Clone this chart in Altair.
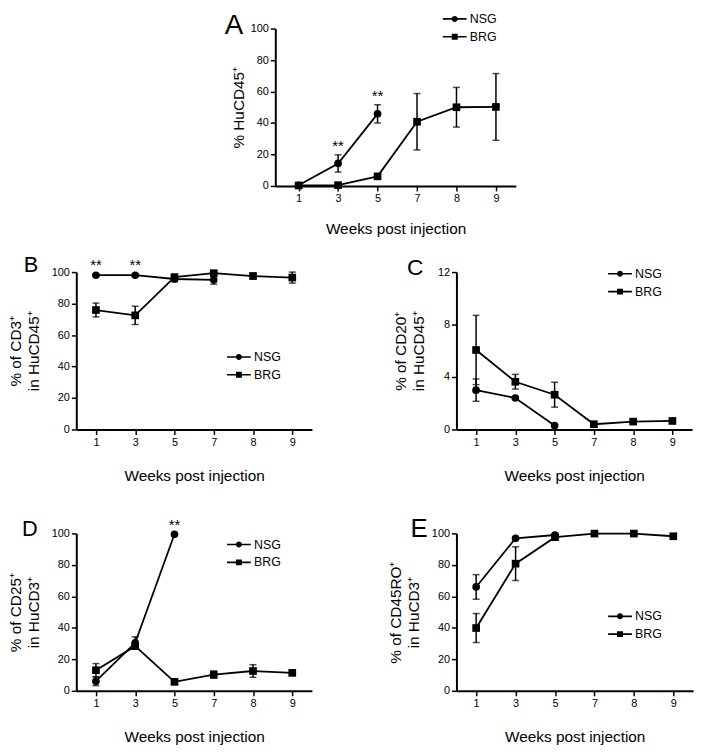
import altair as alt
import pandas as pd

WEEKS = ["1", "3", "5", "7", "8", "9"]
SERIES = ["NSG", "BRG"]
X_TITLE = "Weeks post injection"

# ---- Panel A ----
A_NSG_WEEKS = ["1", "3", "5"]
A_NSG_MEAN = [0.4, 14.3, 45.8]
A_NSG_SEM = [0.3, 5.5, 5.8]
A_BRG_WEEKS = ["1", "3", "5", "7", "8", "9"]
A_BRG_MEAN = [0.3, 0.5, 6.1, 40.8, 50.0, 50.2]
A_BRG_SEM = [0.2, 0.4, 1.4, 17.9, 12.6, 21.2]
A_SIG_WEEKS = ["3", "5"]
A_Y_TICKS = [0, 20, 40, 60, 80, 100]
A_Y_TITLE = ["% HuCD45⁺"]

# ---- Panel B ----
B_NSG_WEEKS = ["1", "3", "5", "7"]
B_NSG_MEAN = [98.0, 98.0, 95.6, 95.1]
B_NSG_SEM = [0.6, 0.6, 1.8, 2.8]
B_BRG_WEEKS = ["1", "3", "5", "7", "8", "9"]
B_BRG_MEAN = [75.9, 72.5, 96.8, 99.3, 97.5, 96.5]
B_BRG_SEM = [4.4, 5.8, 1.2, 1.0, 1.8, 3.5]
B_SIG_WEEKS = ["1", "3"]
B_Y_TICKS = [0, 20, 40, 60, 80, 100]
B_Y_TITLE = ["% of CD3⁺", "in HuCD45⁺"]

# ---- Panel C ----
C_NSG_WEEKS = ["1", "3", "5"]
C_NSG_MEAN = [3.0, 2.4, 0.3]
C_NSG_SEM = [0.85, 0.1, 0.1]
C_BRG_WEEKS = ["1", "3", "5", "7", "8", "9"]
C_BRG_MEAN = [6.06, 3.64, 2.65, 0.4, 0.6, 0.65]
C_BRG_SEM = [2.64, 0.56, 0.95, 0.1, 0.1, 0.1]
C_SIG_WEEKS = []
C_Y_TICKS = [0, 4, 8, 12]
C_Y_TITLE = ["% of CD20⁺", "in HuCD45⁺"]

# ---- Panel D ----
D_NSG_WEEKS = ["1", "3", "5"]
D_NSG_MEAN = [6.1, 30.5, 99.5]
D_NSG_SEM = [2.8, 3.8, 0.4]
D_BRG_WEEKS = ["1", "3", "5", "7", "8", "9"]
D_BRG_MEAN = [13.1, 28.4, 5.7, 10.3, 12.6, 11.4]
D_BRG_SEM = [4.2, 1.8, 1.5, 2.3, 4.0, 1.0]
D_SIG_WEEKS = ["5"]
D_Y_TICKS = [0, 20, 40, 60, 80, 100]
D_Y_TITLE = ["% of CD25⁺", "in HuCD3⁺"]

# ---- Panel E ----
E_NSG_WEEKS = ["1", "3", "5"]
E_NSG_MEAN = [66.0, 96.9, 99.0]
E_NSG_SEM = [7.8, 0.8, 0.5]
E_BRG_WEEKS = ["1", "3", "5", "7", "8", "9"]
E_BRG_MEAN = [39.9, 80.8, 97.6, 99.9, 99.9, 98.2]
E_BRG_SEM = [9.2, 10.7, 0.8, 0.3, 0.3, 0.5]
E_SIG_WEEKS = []
E_Y_TICKS = [0, 20, 40, 60, 80, 100]
E_Y_TITLE = ["% of CD45RO⁺", "in HuCD3⁺"]

FONT = "Liberation Sans"
W, H = 694, 738

# legend symbols: a short filled bar (the line) with the marker in the middle
PATH_NSG = "M-1,-0.27H7V0.27H-1ZM4,0A1,1,0,1,1,2,0A1,1,0,1,1,4,0Z"
PATH_BRG = "M-1,-0.27H7V0.27H-1ZM2,-1H4V1H2Z"

LAYOUT = {
    "A": dict(xr=[269, 512], pad=0.548, align=0.54, yr=[175, 16], ytp=4, xtp=18,
              lfs=28, ldx=-74.7, ldy=5, legx=435, legy=0),
    "B": dict(xr=[68, 306], pad=0.5, align=0.5, yr=[421, 262], ytp=10, xtp=22,
              lfs=22, ldx=-72.8, ldy=0, legx=217, legy=341.5),
    "C": dict(xr=[452, 690], pad=0.5, align=0.5, yr=[421, 262], ytp=11, xtp=22,
              lfs=23, ldx=-69.8, ldy=3, legx=602, legy=257.5),
    "D": dict(xr=[68, 306], pad=0.5, align=0.5, yr=[685, 526], ytp=10, xtp=21,
              lfs=22, ldx=-74.8, ldy=2.7, legx=217, legy=531),
    "E": dict(xr=[452, 691], pad=0.5, align=0.5, yr=[685, 526], ytp=10, xtp=21,
              lfs=26, ldx=-66.2, ldy=3.7, legx=602, legy=603.5),
}


def make_panel(letter, nsg, brg, sig, yticks, ytitle):
    lay = LAYOUT[letter]
    rows = []
    for name, (weeks, means, sems) in zip(SERIES, (nsg, brg)):
        for w, m, s in zip(weeks, means, sems):
            rows.append({"week": w, "series": name, "mean": m, "sem": s,
                         "sig": "**" if (name == "NSG" and w in sig) else ""})
    df = pd.DataFrame(rows)
    ymax = yticks[-1]
    xs = alt.Scale(type="point", domain=WEEKS, range=lay["xr"],
                   padding=lay["pad"], align=lay["align"])
    ys = alt.Scale(domain=[0, ymax], range=lay["yr"], nice=False, zero=True)
    x_axis = alt.Axis(orient="bottom", offset=lay["yr"][0] - H, title=X_TITLE,
                      labelAngle=0, titlePadding=lay["xtp"])
    y_axis = alt.Axis(orient="left", offset=-lay["xr"][0], values=yticks,
                      title=ytitle, titlePadding=lay["ytp"], titleLineHeight=18,
                      format="d")
    xe = alt.X("week:O", scale=xs, axis=x_axis)

    def ye(field):
        return alt.Y(field, scale=ys, axis=y_axis)

    base = alt.Chart(df).transform_calculate(
        lo="datum.mean - datum.sem", hi="datum.mean + datum.sem")

    line = base.mark_line(color="black", strokeWidth=1.8).encode(
        x=xe, y=ye("mean:Q"), detail="series:N")
    bars = base.mark_rule(color="black", strokeWidth=1.5).encode(
        x=xe, y=ye("lo:Q"), y2="hi:Q")
    caps = base.transform_fold(["lo", "hi"], as_=["end", "val"]).mark_tick(
        color="black", size=7, thickness=1.5).encode(x=xe, y=ye("val:Q"))
    pts = base.mark_point(filled=True, size=60, color="black", opacity=1).encode(
        x=xe, y=ye("mean:Q"),
        shape=alt.Shape("series:N", scale=alt.Scale(domain=SERIES, range=["circle", "square"]),
                        legend=None))
    stars = base.transform_filter("datum.sig != ''").mark_text(
        fontSize=15, font=FONT, color="black", baseline="alphabetic", dy=-4).encode(
        x=xe, y=ye("hi:Q"), text="sig:N")
    lab = alt.Chart(pd.DataFrame({"letter": [letter], "week": [WEEKS[0]], "top": [ymax]})).mark_text(
        font=FONT, fontSize=lay["lfs"], color="black", align="left", baseline="alphabetic",
        dx=lay["ldx"], dy=lay["ldy"]).encode(x=xe, y=ye("top:Q"), text="letter:N")
    leg = base.transform_filter("false").mark_point(
        filled=True, color="black", opacity=1).encode(
        x=xe, y=ye("mean:Q"),
        shape=alt.Shape("series:N", scale=alt.Scale(domain=SERIES, range=[PATH_NSG, PATH_BRG]),
                        legend=alt.Legend(orient="none", legendX=lay["legx"], legendY=lay["legy"],
                                          title=None, labelFont=FONT, labelFontSize=12.5,
                                          labelColor="black", symbolSize=36,
                                          symbolFillColor="black", symbolOpacity=1,
                                          rowPadding=5, labelOffset=18, padding=0,
                                          symbolOffset=0)))
    return alt.layer(line, bars, caps, pts, stars, lab, leg).resolve_scale(shape="independent")


panels = [
    make_panel("A", (A_NSG_WEEKS, A_NSG_MEAN, A_NSG_SEM), (A_BRG_WEEKS, A_BRG_MEAN, A_BRG_SEM),
               A_SIG_WEEKS, A_Y_TICKS, A_Y_TITLE),
    make_panel("B", (B_NSG_WEEKS, B_NSG_MEAN, B_NSG_SEM), (B_BRG_WEEKS, B_BRG_MEAN, B_BRG_SEM),
               B_SIG_WEEKS, B_Y_TICKS, B_Y_TITLE),
    make_panel("C", (C_NSG_WEEKS, C_NSG_MEAN, C_NSG_SEM), (C_BRG_WEEKS, C_BRG_MEAN, C_BRG_SEM),
               C_SIG_WEEKS, C_Y_TICKS, C_Y_TITLE),
    make_panel("D", (D_NSG_WEEKS, D_NSG_MEAN, D_NSG_SEM), (D_BRG_WEEKS, D_BRG_MEAN, D_BRG_SEM),
               D_SIG_WEEKS, D_Y_TICKS, D_Y_TITLE),
    make_panel("E", (E_NSG_WEEKS, E_NSG_MEAN, E_NSG_SEM), (E_BRG_WEEKS, E_BRG_MEAN, E_BRG_SEM),
               E_SIG_WEEKS, E_Y_TICKS, E_Y_TITLE),
]

chart = alt.layer(*panels).resolve_scale(
    x="independent", y="independent", shape="independent"
).properties(
    width=W, height=H, padding=0
).configure_view(
    stroke=None
).configure_axis(
    domainColor="black", domainWidth=2, tickColor="black", tickWidth=1.5, tickSize=5,
    labelColor="black", labelFont=FONT, labelFontSize=11, labelPadding=2,
    titleFont=FONT, titleFontSize=15.5, titleFontWeight="normal", titleColor="black",
    grid=False
)

chart.save("out.html", embed_options={"renderer": "svg", "actions": False})
